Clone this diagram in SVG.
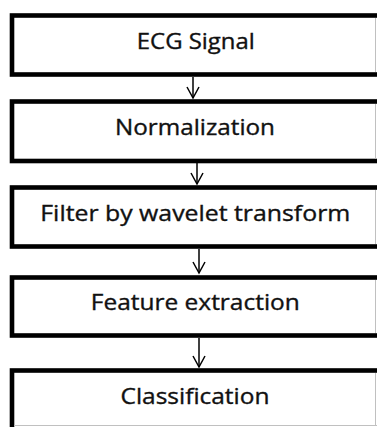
<svg xmlns="http://www.w3.org/2000/svg" width="377" height="427" viewBox="0 0 377 427">
<defs>
<style>
.box{fill:#ffffff;stroke:#000000;stroke-width:4.6}
.edge{stroke:#c0c0c0;stroke-width:1;fill:none}
.lbl{font-family:"Open Sans","Liberation Sans",sans-serif;font-size:21px;fill:#111111;stroke:#111111;stroke-width:0.35;text-anchor:middle}
.conn{stroke:#000000;stroke-width:1.5;fill:none}
</style>
<marker id="arr" viewBox="0 0 14 14" refX="12" refY="7" markerWidth="14" markerHeight="14" markerUnits="userSpaceOnUse" orient="auto">
<path d="M1,1 L12,7 L1,13" fill="none" stroke="#000" stroke-width="1.5"/>
</marker>
</defs>
<rect width="377" height="427" fill="#ffffff"/>
<g id="connectors">
<line class="conn" x1="193" y1="77" x2="193" y2="98" marker-end="url(#arr)"/>
<line class="conn" x1="197" y1="163" x2="197" y2="184" marker-end="url(#arr)"/>
<line class="conn" x1="199" y1="249" x2="199" y2="273" marker-end="url(#arr)"/>
<line class="conn" x1="199" y1="338" x2="199" y2="367" marker-end="url(#arr)"/>
</g>
<g id="node-ecg">
<rect class="box" x="12" y="15.5" width="380" height="59"/>
<line class="edge" x1="375.5" y1="18" x2="375.5" y2="72"/>
<text class="lbl" x="195.8" y="48.5" textLength="118" lengthAdjust="spacingAndGlyphs">ECG Signal</text>
</g>
<g id="node-normalization">
<rect class="box" x="12" y="101.5" width="380" height="59.5"/>
<line class="edge" x1="375.5" y1="104" x2="375.5" y2="158.5"/>
<text class="lbl" x="195" y="135" textLength="160" lengthAdjust="spacingAndGlyphs">Normalization</text>
</g>
<g id="node-filter">
<rect class="box" x="12" y="187.5" width="380" height="59"/>
<line class="edge" x1="375.5" y1="190" x2="375.5" y2="244"/>
<text class="lbl" x="195.3" y="221" textLength="310" lengthAdjust="spacingAndGlyphs">Filter by wavelet transform</text>
</g>
<g id="node-feature">
<rect class="box" x="12" y="277.5" width="380" height="58"/>
<line class="edge" x1="375.5" y1="280" x2="375.5" y2="333"/>
<text class="lbl" x="195.3" y="310" textLength="209" lengthAdjust="spacingAndGlyphs">Feature extraction</text>
</g>
<g id="node-classification">
<rect class="box" x="12" y="370.5" width="380" height="80"/>
<line class="edge" x1="375.5" y1="373" x2="375.5" y2="425.5"/>
<line class="edge" x1="14" y1="425.5" x2="377" y2="425.5"/>
<text class="lbl" x="195" y="403.5" textLength="149" lengthAdjust="spacingAndGlyphs">Classification</text>
</g>
</svg>
